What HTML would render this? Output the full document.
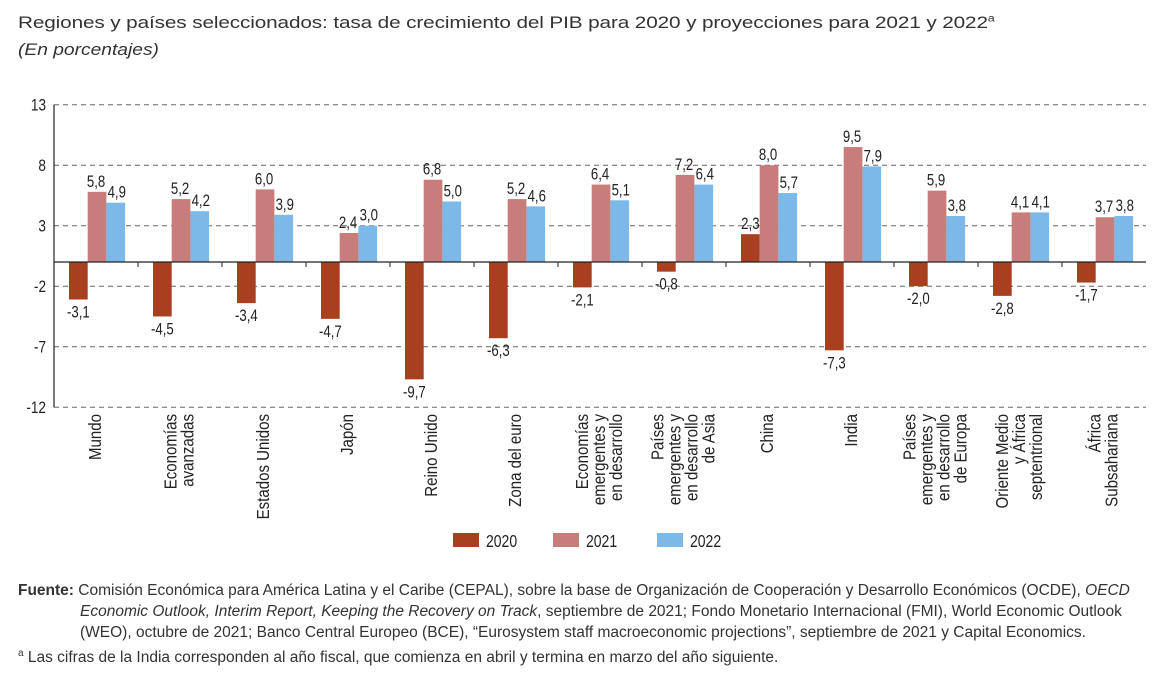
<!DOCTYPE html>
<html><head><meta charset="utf-8">
<style>
body{margin:0;background:#fff;width:1163px;height:686px;overflow:hidden;font-family:"Liberation Sans",sans-serif;}
.title{position:absolute;left:18px;top:13px;font-size:17px;color:#333;transform:scaleX(1.22);transform-origin:left top;white-space:nowrap;letter-spacing:-0.1px}
.sub{position:absolute;left:18px;top:40px;font-size:17px;font-style:italic;color:#333;transform:scaleX(1.13);transform-origin:left top;}
.src{position:absolute;left:18px;top:580px;width:1130px;font-size:15.5px;line-height:21px;color:#333;}
</style></head><body>
<div class="title">Regiones y países seleccionados: tasa de crecimiento del PIB para 2020 y proyecciones para 2021 y 2022<sup style="font-size:10px">a</sup></div>
<div class="sub">(En porcentajes)</div>
<svg id="c" width="1163" height="686" style="position:absolute;left:0;top:0"></svg>
<div class="src"><div style="padding-left:62px;text-indent:-62px"><b>Fuente:</b> Comisión Económica para América Latina y el Caribe (CEPAL), sobre la base de Organización de Cooperación y Desarrollo Económicos (OCDE), <i>OECD Economic Outlook, Interim Report, Keeping the Recovery on Track</i>, septiembre de 2021; Fondo Monetario Internacional (FMI), World Economic Outlook (WEO), octubre de 2021; Banco Central Europeo (BCE), “Eurosystem staff macroeconomic projections”, septiembre de 2021 y Capital Economics.</div><div><sup style="font-size:10px">a</sup> Las cifras de la India corresponden al año fiscal, que comienza en abril y termina en marzo del año siguiente.</div></div>
<script>
const categories=[["Mundo"],["Economías","avanzadas"],["Estados Unidos"],["Japón"],["Reino Unido"],["Zona del euro"],["Economías","emergentes y","en desarrollo"],["Países","emergentes y","en desarrollo","de Asia"],["China"],["India"],["Países","emergentes y","en desarrollo","de Europa"],["Oriente Medio","y África","septentrional"],["África","Subsahariana"]];
const s2020=[-3.1,-4.5,-3.4,-4.7,-9.7,-6.3,-2.1,-0.8,2.3,-7.3,-2.0,-2.8,-1.7];
const s2021=[5.8,5.2,6.0,2.4,6.8,5.2,6.4,7.2,8.0,9.5,5.9,4.1,3.7];
const s2022=[4.9,4.2,3.9,3.0,5.0,4.6,5.1,6.4,5.7,7.9,3.8,4.1,3.8];
const yTicks=[13,8,3,-2,-7,-12];
const seriesNames=["2020","2021","2022"];
const colors=["#a8401f","#c77e7a","#7db9e8"];
const NS="http://www.w3.org/2000/svg",svg=document.getElementById('c');
function mk(t,a,txt){const e=document.createElementNS(NS,t);for(const k in a)e.setAttribute(k,a[k]);if(txt!=null)e.textContent=txt;svg.appendChild(e);return e;}
const x0=54,gw=84,bw=18.7,off=15,SX=0.8,CX=0.86;
const y=v=>262-(v*157.3/13);
const fmt=v=>v.toFixed(1).replace('.',',');
yTicks.forEach(t=>{
 let l=mk('line',{x1:x0,x2:x0+13*gw,y1:y(t),y2:y(t),stroke:'#666','stroke-dasharray':'5,4','stroke-width':1});
 
 let tx=mk('text',{transform:'translate('+(x0-8)+','+(y(t)+6)+') scale('+SX+',1)','text-anchor':'end','font-size':17,fill:'#222'},String(t));
 
});
const series=[s2020,s2021,s2022];
categories.forEach((c,i)=>{
 series.forEach((s,j)=>{
  const v=s[i],bx=x0+i*gw+off+j*bw,top=Math.min(y(v),y(0)),h=Math.abs(y(v)-y(0));
  const r=mk('rect',{x:bx,y:top,width:bw,height:h,fill:colors[j]});
  
  
  const ly=v>=0?y(v)-5:y(v)+18;
  const t=mk('text',{transform:'translate('+(bx+bw/2+(j==1?-1:j==2?1:0))+','+ly+') scale('+SX+',1)','text-anchor':'middle','font-size':16.5,fill:'#222'},fmt(v));
  
  
 });
 const cx=x0+i*gw+gw/2,n=c.length;
 const g=document.createElementNS(NS,'text');
 g.setAttribute('transform','translate('+cx+',414) rotate(-90) scale('+CX+',1)');
 g.setAttribute('text-anchor','end');g.setAttribute('font-size',17.5);g.setAttribute('fill','#222');
 
 
 c.forEach((ln,k)=>{const ts=document.createElementNS(NS,'tspan');ts.setAttribute('x',0);ts.setAttribute('y',(k-(n-1)/2)*17+5);ts.textContent=ln;g.appendChild(ts);});
 svg.appendChild(g);
 if(i>0){const tk=mk('line',{x1:x0+i*gw,x2:x0+i*gw,y1:262,y2:267,stroke:'#222'});}
});
let ax=mk('line',{x1:x0,x2:x0,y1:y(13),y2:y(-12),stroke:'#222','stroke-width':1.2});
let zx=mk('line',{x1:x0,x2:x0+13*gw,y1:262,y2:262,stroke:'#222','stroke-width':1.2});
const lx=[453,553,657];
seriesNames.forEach((n,j)=>{
 const r=mk('rect',{x:lx[j],y:533,width:26,height:14,fill:colors[j]});
 
 const t=mk('text',{transform:'translate('+(lx[j]+33)+',547) scale('+SX+',1)','font-size':17.5,fill:'#222'},n);
 
});
</script>
</body></html>
